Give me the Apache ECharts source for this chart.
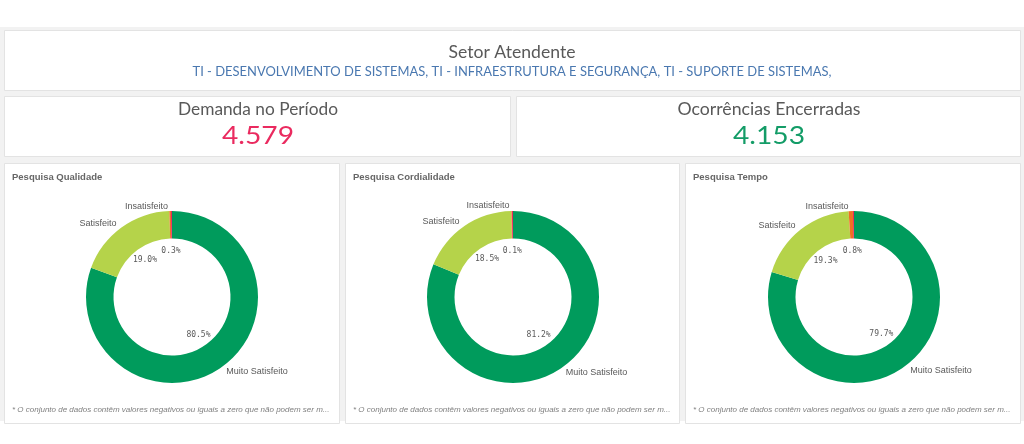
<!DOCTYPE html>
<html>
<head>
<meta charset="utf-8">
<script src="https://cdn.jsdelivr.net/npm/echarts@6/dist/echarts.min.js"></script>
<style>
html,body{margin:0;padding:0;background:#fff;}
#c{width:1024px;height:444px;}
</style>
</head>
<body>
<div id="c"></div>
<script>
// ---------- data ----------
const categories = ['Muito Satisfeito', 'Satisfeito', 'Insatisfeito', 'Muito Insatisfeito'];
const qualidade = [80.5, 19.0, 0.3, 0.2];
const cordialidade = [81.2, 18.5, 0.1, 0.2];
const tempo = [79.7, 19.3, 0.8, 0.2];
const chartTitles = ['Pesquisa Qualidade', 'Pesquisa Cordialidade', 'Pesquisa Tempo'];
const kpiTitles = ['Demanda no Período', 'Ocorrências Encerradas'];
const kpiValues = ['4.579', '4.153'];
const sectorTitle = 'Setor Atendente';
const sectorList = 'TI - DESENVOLVIMENTO DE SISTEMAS, TI - INFRAESTRUTURA E SEGURANÇA, TI - SUPORTE DE SISTEMAS,';
const footnote = '* O conjunto de dados contêm valores negativos ou iguais a zero que não podem ser m...';

// ---------- style ----------
const sliceColors = ['#009b5c', '#b5d34a', '#f07023', '#e8285e'];
const txtGray = '#595959';
const headFont = 'Lato';

const cv = document.createElement('canvas').getContext('2d');
function measure(font, text) { cv.font = font; return cv.measureText(text).width; }
function fitText(text, cx, cy, size, width, color, weight) {
  const font = (weight || 'normal') + ' ' + size + 'px ' + headFont;
  const w = measure(font, text);
  return {
    type: 'text', x: cx, y: cy, scaleX: width / w, silent: true, z: 10,
    style: { text: text, font: font, fill: color, textAlign: 'center', textVerticalAlign: 'middle' }
  };
}
function panel(x, y, w, h) {
  return { type: 'rect', shape: { x: x + 0.5, y: y + 0.5, width: w, height: h }, silent: true, z: 1,
    style: { fill: '#ffffff', stroke: '#e3e3e3', lineWidth: 1 } };
}

const graphics = [
  { type: 'rect', shape: { x: 0, y: 27, width: 1024, height: 394 }, silent: true, z: 0, style: { fill: '#f2f2f2' } },
  panel(4, 30, 1016, 60),
  panel(4, 96, 506, 60),
  panel(516, 96, 504, 60),
  panel(4, 163, 335, 260),
  panel(345, 163, 334, 260),
  panel(685, 163, 335, 260),
  fitText(sectorTitle, 512, 52, 18, 127, txtGray),
  fitText(sectorList, 512, 72, 13, 639, '#4a78b0'),
  fitText(kpiTitles[0], 258, 109, 18, 160, txtGray),
  fitText(kpiValues[0], 258, 136, 25, 72, '#ea2a5f'),
  fitText(kpiTitles[1], 769, 109, 18, 183, txtGray),
  fitText(kpiValues[1], 769, 136, 25, 72, '#139c67')
];

const panelX = [4, 345, 685];
const centers = [[172, 297], [513, 297], [854, 297]];
const seriesData = [qualidade, cordialidade, tempo];

panelX.forEach(function (px, i) {
  graphics.push({ type: 'text', x: px + 8, y: 177, silent: true, z: 10,
    style: { text: chartTitles[i], font: 'bold 9.5px "Liberation Sans"', fill: '#666666', textVerticalAlign: 'middle' } });
  graphics.push({ type: 'text', x: px + 8, y: 410, silent: true, z: 10,
    style: { text: footnote, font: 'italic 8px "Liberation Sans"', fill: '#808080', textVerticalAlign: 'middle' } });
});

const series = [];
seriesData.forEach(function (vals, i) {
  const ring = vals.map(function (v, k) {
    return { name: categories[k], value: v, itemStyle: { color: sliceColors[k] },
      label: { show: k < 3 } };
  });
  const inner = vals.map(function (v, k) {
    return { name: categories[k], value: v, label: { show: k < 3 } };
  });
  series.push({
    type: 'pie', center: centers[i], radius: [58.5, 86], startAngle: 90, clockwise: true,
    silent: true, avoidLabelOverlap: true, z: 5,
    itemStyle: { borderWidth: 0 },
    label: { position: 'outside', formatter: '{b}', color: txtGray, fontSize: 9,
      fontFamily: 'Liberation Sans', distanceToLabelLine: 2 },
    labelLine: { show: false, length: 5, length2: 0 },
    emphasis: { disabled: true },
    data: ring
  });
  series.push({
    type: 'pie', center: centers[i], radius: [28, 58], startAngle: 90, clockwise: true,
    silent: true, avoidLabelOverlap: false, z: 6,
    itemStyle: { color: 'rgba(0,0,0,0)', borderWidth: 0 },
    label: { position: 'inside', color: txtGray, fontSize: 8, fontFamily: 'DejaVu Sans Mono',
      formatter: function (p) { return p.value.toFixed(1) + '%'; } },
    labelLine: { show: false },
    emphasis: { disabled: true },
    data: inner
  });
});

const chart = echarts.init(document.getElementById('c'), null, { renderer: 'canvas' });
chart.setOption({
  animation: false,
  backgroundColor: '#ffffff',
  graphic: { elements: graphics },
  series: series
});
</script>
</body>
</html>
